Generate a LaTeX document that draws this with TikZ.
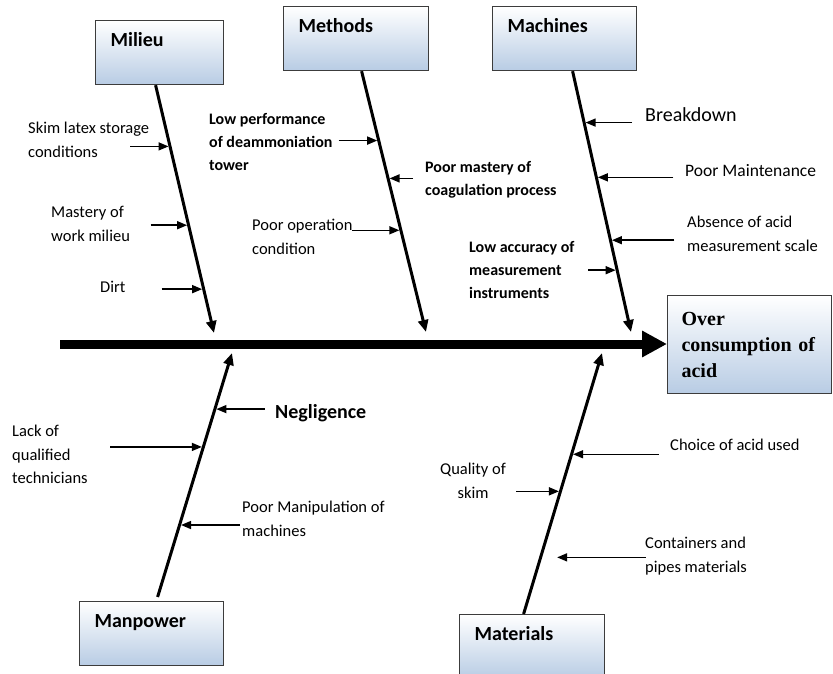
\documentclass[tikz,border=0pt]{standalone}
\usepackage{fontspec}
\setmainfont{Carlito}
\newfontfamily\effectfont{Liberation Serif}
\usetikzlibrary{arrows.meta,calc}
\definecolor{boxblue}{RGB}{184,204,228}
\definecolor{boxline}{RGB}{60,60,60}

\begin{document}
\begin{tikzpicture}[
    x=1pt, y=-1pt,
    catbox/.style = {draw=boxline, line width=1.2pt, top color=white, bottom color=boxblue,
                     anchor=north west, align=left, inner xsep=15pt, inner ysep=13pt,
                     text height=13pt, text depth=25pt, font=\fontsize{20}{24}\selectfont\bfseries},
    effbox/.style = {draw=boxline, line width=1.2pt, top color=white, bottom color=boxblue,
                     anchor=north west, align=left, text width=136pt, minimum height=98pt,
                     inner xsep=14pt, font=\effectfont\fontsize{20}{26}\selectfont\bfseries},
    cause/.style  = {anchor=north west, align=left, inner sep=0pt,
                     font=\fontsize{16.5}{23.5}\selectfont},
    bcause/.style = {cause, font=\fontsize{16}{23}\selectfont\bfseries},
    spine/.style  = {line width=9pt, -{Triangle[length=25pt,width=25pt]}},
    bone/.style   = {line width=3pt, -{Triangle[length=12pt,width=10pt]}},
    twig/.style   = {line width=1.5pt, -{Triangle[length=10pt,width=8pt]}, shorten >=1.5pt},
  ]
    \clip (0,0) rectangle (833,674);

    \node[catbox, text width=98pt]  (milieu)    at (95,20)   {Milieu};
    \node[catbox, text width=115pt] (methods)   at (283,6)   {Methods};
    \node[catbox, text width=114pt] (machines)  at (492,6)   {Machines};
    \node[catbox, text width=114pt] (manpower)  at (79,601)  {Manpower};
    \node[catbox, text width=115pt] (materials) at (459,614) {Materials};
    \node[effbox] (effect) at (667,295) {Over\\consumption of\\acid};

    \coordinate (tail) at (60,344);
    \draw[spine] (tail) -- (tail -| effect.west);

    \coordinate (milT) at ([xshift=-4pt]milieu.south);
    \coordinate (milH) at (214,333);
    \coordinate (metT) at ([xshift=5.5pt]methods.south);
    \coordinate (metH) at (426,332);
    \coordinate (macT) at ([xshift=8pt]machines.south);
    \coordinate (macH) at (631,332);
    \coordinate (manB) at ([xshift=6pt,yshift=4pt]manpower.north);
    \coordinate (manH) at (232,353);
    \coordinate (matB) at ([xshift=-8.5pt]materials.north);
    \coordinate (matH) at (602,353);

    \draw[bone] (milT) -- (milH);
    \draw[bone] (metT) -- (metH);
    \draw[bone] (macT) -- (macH);
    \draw[bone] (manB) -- (manH);
    \draw[bone] (matB) -- (matH);

    \node[cause]  (skim)      at (28,122)  {Skim latex storage\\conditions};
    \node[cause]  (mastery)   at (51,206)  {Mastery of\\work milieu};
    \node[cause]  (dirt)      at (100,281) {Dirt};
    \node[bcause] (lowperf)   at (209,113) {Low performance\\of deammoniation\\tower};
    \node[cause]  (poorop)    at (252,219) {Poor operation\\condition};
    \node[bcause] (coag)      at (425,161) {Poor mastery of\\coagulation process};
    \node[bcause] (accuracy)  at (469,241) {Low accuracy of\\measurement\\instruments};
    \node[cause, font=\fontsize{20}{24}\selectfont] (breakdown) at (645,107) {Breakdown};
    \node[cause, font=\fontsize{17.5}{24}\selectfont] (maint) at (685,164) {Poor Maintenance};
    \node[cause]  (scale)     at (687,216) {Absence of acid\\measurement scale};
    \node[bcause, font=\fontsize{20}{24}\selectfont\bfseries] (negl) at (275,404) {Negligence};
    \node[cause]  (lack)      at (12,425)  {Lack of\\qualified\\technicians};
    \node[cause]  (manip)     at (242,501) {Poor Manipulation of\\machines};
    \node[cause]  (choice)    at (670,439) {Choice of acid used};
    \node[cause, align=center] (quality) at (440,463) {Quality of\\skim};
    \node[cause]  (pipes)     at (645,537) {Containers and\\pipes materials};

    \coordinate (skim-at)      at ($(milT)!0.247!(milH)$);
    \coordinate (mastery-at)   at ($(milT)!0.565!(milH)$);
    \coordinate (dirt-at)      at ($(milT)!0.823!(milH)$);
    \coordinate (lowperf-at)   at ($(metT)!0.266!(metH)$);
    \coordinate (coag-at)      at ($(metT)!0.411!(metH)$);
    \coordinate (poorop-at)    at ($(metT)!0.610!(metH)$);
    \coordinate (accuracy-at)  at ($(macT)!0.763!(macH)$);
    \coordinate (breakdown-at) at ($(macT)!0.197!(macH)$);
    \coordinate (maint-at)     at ($(macT)!0.407!(macH)$);
    \coordinate (scale-at)     at ($(macT)!0.648!(macH)$);
    \coordinate (negl-at)      at ($(manB)!0.770!(manH)$);
    \coordinate (lack-at)      at ($(manB)!0.615!(manH)$);
    \coordinate (manip-at)     at ($(manB)!0.295!(manH)$);
    \coordinate (choice-at)    at ($(matB)!0.612!(matH)$);
    \coordinate (quality-at)   at ($(matB)!0.470!(matH)$);
    \coordinate (pipes-at)     at ($(matB)!0.217!(matH)+(15,0)$);

    \draw[twig] ([xshift=-40pt]skim-at)     -- (skim-at);
    \draw[twig] ([xshift=-38pt]mastery-at)  -- (mastery-at);
    \draw[twig] ([xshift=-42pt]dirt-at)     -- (dirt-at);
    \draw[twig] ([xshift=-40pt]lowperf-at)  -- (lowperf-at);
    \draw[twig] ([xshift=25pt]coag-at)      -- (coag-at);
    \draw[twig] ([xshift=-49pt]poorop-at)   -- (poorop-at);
    \draw[twig] ([xshift=-29pt]accuracy-at) -- (accuracy-at);
    \draw[twig] ([xshift=48pt]breakdown-at) -- (breakdown-at);
    \draw[twig] ([xshift=77pt]maint-at)     -- (maint-at);
    \draw[twig] ([xshift=64pt]scale-at)     -- (scale-at);
    \draw[twig] ([xshift=50pt]negl-at)      -- (negl-at);
    \draw[twig] ([xshift=-93pt]lack-at)     -- (lack-at);
    \draw[twig] ([xshift=60pt]manip-at)     -- (manip-at);
    \draw[twig] ([xshift=87pt]choice-at)    -- (choice-at);
    \draw[twig] ([xshift=-44pt]quality-at)  -- (quality-at);
    \draw[twig] ([xshift=90pt]pipes-at)     -- (pipes-at);
\end{tikzpicture}
\end{document}
